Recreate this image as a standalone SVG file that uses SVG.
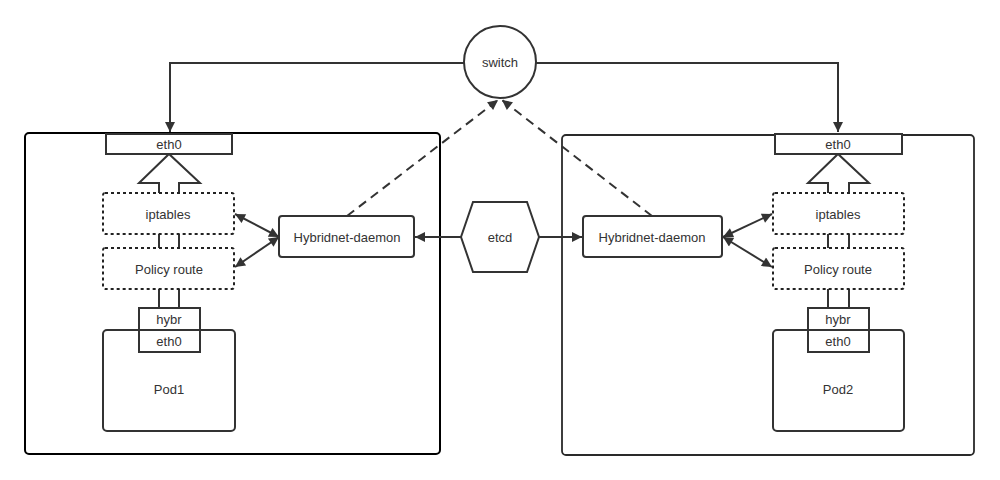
<svg xmlns="http://www.w3.org/2000/svg" width="1000" height="480" viewBox="0 0 1000 480">
<style>
text{font-family:"Liberation Sans",Arial,sans-serif;font-size:13px;fill:#333;text-anchor:middle;dominant-baseline:central}
.box{fill:#fff;stroke:#333;stroke-width:2}
.dot{fill:#fff;stroke:#222;stroke-width:2;stroke-dasharray:3 3}
.ln{fill:none;stroke:#333;stroke-width:2}
.dash{fill:none;stroke:#333;stroke-width:2;stroke-dasharray:9 6}
</style>
<defs>
<marker id="ah" viewBox="0 0 10 10" refX="10" refY="5" markerWidth="12" markerHeight="10" markerUnits="userSpaceOnUse" orient="auto-start-reverse">
<path d="M0,0 L10,5 L0,10 Z" fill="#333"/>
</marker>
</defs>
<g id="host1"><rect x="25" y="133" width="415" height="321" rx="4" fill="none" stroke="#000" stroke-width="2"/></g>
<g id="host2"><rect x="562" y="135" width="412" height="320" rx="4" fill="none" stroke="#2a2a2a" stroke-width="1.8"/></g>
<g id="connectors">
<polyline class="ln" points="464,63 170,63 170,132" marker-end="url(#ah)"/>
<polyline class="ln" points="536,63 838,63 838,132" marker-end="url(#ah)"/>
<line class="dash" x1="347" y1="216" x2="498" y2="100" marker-end="url(#ah)"/>
<line class="dash" x1="652" y1="216" x2="502" y2="100" marker-end="url(#ah)"/>
<line class="ln" x1="461" y1="237" x2="415" y2="237" marker-end="url(#ah)"/>
<line class="ln" x1="539" y1="237" x2="582" y2="237" marker-end="url(#ah)"/>
<line class="ln" x1="279" y1="237" x2="235" y2="214" marker-start="url(#ah)" marker-end="url(#ah)"/>
<line class="ln" x1="279" y1="237" x2="235" y2="267" marker-start="url(#ah)" marker-end="url(#ah)"/>
<line class="ln" x1="723" y1="237" x2="772" y2="214" marker-start="url(#ah)" marker-end="url(#ah)"/>
<line class="ln" x1="723" y1="237" x2="772" y2="267" marker-start="url(#ah)" marker-end="url(#ah)"/>
<polyline class="ln" points="159,193 159,183 139,183 169,154 200,183 179,183 179,193" fill="#fff"/>
<line class="ln" x1="159" y1="234" x2="159" y2="248"/><line class="ln" x1="179" y1="234" x2="179" y2="248"/>
<line class="ln" x1="159" y1="289" x2="159" y2="308"/><line class="ln" x1="179" y1="289" x2="179" y2="308"/>
<polyline class="ln" points="828,193 828,183 808,183 838,154 869,183 849,183 849,193" fill="#fff"/>
<line class="ln" x1="828" y1="234" x2="828" y2="248"/><line class="ln" x1="849" y1="234" x2="849" y2="248"/>
<line class="ln" x1="828" y1="289" x2="828" y2="308"/><line class="ln" x1="849" y1="289" x2="849" y2="308"/>
</g>
<g id="switch"><circle class="box" cx="500" cy="62" r="36"/><text x="500" y="62">switch</text></g>
<g id="etcd"><polygon class="box" points="473,202 527,202 539,237 527,272 473,272 461,237"/><text x="500" y="237">etcd</text></g>
<g id="daemon1"><rect class="box" x="279" y="216" width="135" height="41" rx="3"/><text x="347" y="237">Hybridnet-daemon</text></g>
<g id="daemon2"><rect class="box" x="583" y="216" width="139" height="41" rx="3"/><text x="652" y="237">Hybridnet-daemon</text></g>
<g id="eth0-1"><rect class="box" x="106" y="134" width="126" height="20"/><text x="169" y="144">eth0</text></g>
<g id="eth0-2"><rect class="box" x="775" y="134" width="127" height="20"/><text x="838" y="144">eth0</text></g>
<g id="iptables1"><rect class="dot" x="103" y="193" width="131" height="41" rx="2"/><text x="168" y="214">iptables</text></g>
<g id="policy1"><rect class="dot" x="103" y="248" width="131" height="41" rx="2"/><text x="169" y="269">Policy route</text></g>
<g id="iptables2"><rect class="dot" x="773" y="193" width="131" height="41" rx="2"/><text x="838" y="214">iptables</text></g>
<g id="policy2"><rect class="dot" x="773" y="248" width="131" height="41" rx="2"/><text x="838" y="269">Policy route</text></g>
<g id="pod1"><rect class="box" x="103" y="330" width="132" height="101" rx="4"/><text x="169" y="389">Pod1</text></g>
<g id="pod2"><rect class="box" x="773" y="330" width="131" height="101" rx="4"/><text x="838" y="389">Pod2</text></g>
<g id="hybr1"><rect x="139" y="308" width="61" height="44" fill="none" stroke="#333" stroke-width="2"/><rect x="140" y="309" width="59" height="20" fill="#fff"/><text x="169" y="319">hybr</text><text x="169" y="341">eth0</text></g>
<g id="hybr2"><rect x="808" y="308" width="61" height="44" fill="none" stroke="#333" stroke-width="2"/><rect x="809" y="309" width="59" height="20" fill="#fff"/><text x="838" y="319">hybr</text><text x="838" y="341">eth0</text></g>
</svg>
